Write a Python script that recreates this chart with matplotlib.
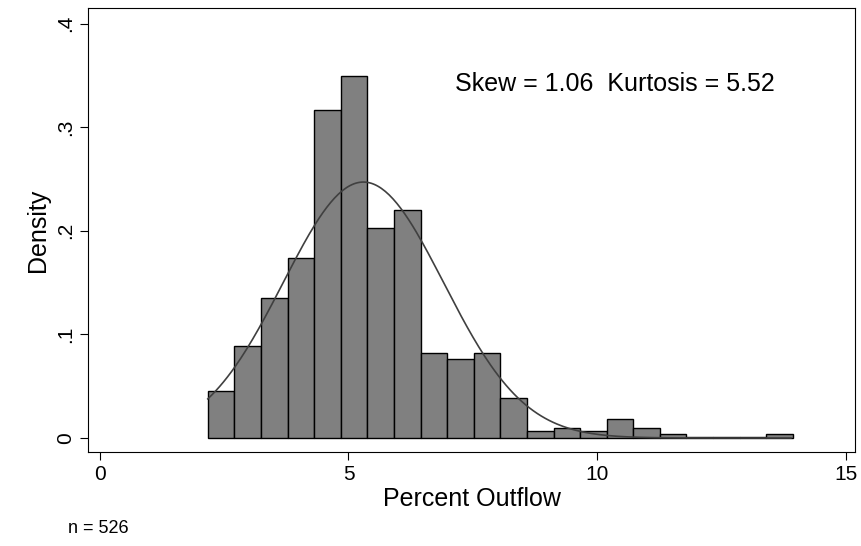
import numpy as np
import matplotlib.pyplot as plt

plt.rcParams['font.family'] = ['Liberation Sans', 'DejaVu Sans']

bin_start = 2.17
bin_width = 0.535
density = [0.045, 0.089, 0.135, 0.174, 0.317, 0.349, 0.203, 0.220, 0.082, 0.076,
           0.082, 0.039, 0.007, 0.010, 0.007, 0.018, 0.010, 0.004, 0.001, 0.001,
           0.001, 0.004]
mean, sd = 5.3, 1.615

fig = plt.figure(figsize=(8.61, 5.46), dpi=100)
ax = fig.add_axes([88/861, 1-452/546, (855-88)/861, (452-8)/546])

lefts = bin_start + bin_width*np.arange(len(density))
ax.bar(lefts, density, width=bin_width, align='edge', color='#808080',
       edgecolor='black', linewidth=1)

xs = np.linspace(bin_start, 13.9, 300)
ax.plot(xs, np.exp(-0.5*((xs-mean)/sd)**2)/(sd*np.sqrt(2*np.pi)), color='#404040', lw=1.2)

ax.set_xlim(-0.24, 15.19)
ax.set_ylim(-0.0135, 0.415)
ax.set_xticks([0, 5, 10, 15])
ax.set_yticks([0, 0.1, 0.2, 0.3, 0.4])
ax.set_yticklabels(['0', '.1', '.2', '.3', '.4'], rotation=90, va='center')
ax.tick_params(labelsize=15, length=6)
ax.set_xlabel('Percent Outflow', fontsize=18, labelpad=2)
ax.set_ylabel('Density', fontsize=18)
ax.text(7.15, 0.335, 'Skew = 1.06  Kurtosis = 5.52', fontsize=18)
fig.text(68/861, 1-533/546, 'n = 526', fontsize=13)
fig.savefig('out.png')
